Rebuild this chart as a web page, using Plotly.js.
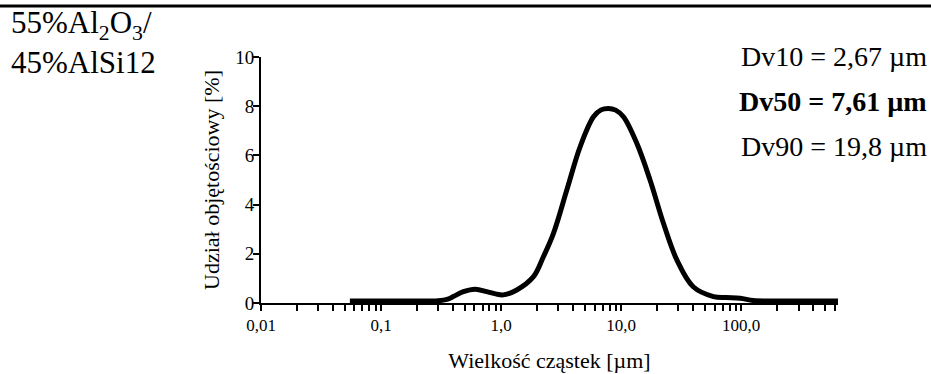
<!DOCTYPE html>
<html>
<head>
<meta charset="utf-8">
<script src="https://cdn.plot.ly/plotly-3.0.1.min.js"></script>
<style>
html,body{margin:0;padding:0;background:#fff;}
#chart{width:931px;height:374px;}
</style>
</head>
<body>
<div id="chart"></div>
<script>
// particle size [µm]
const sizes = [0.055, 0.08, 0.12, 0.18, 0.25, 0.30, 0.36, 0.40, 0.485, 0.61, 0.76, 0.9, 1.04, 1.35, 1.86, 2.25, 2.73, 3.53, 4.55, 5.88, 6.8, 7.83, 9.0, 10.45, 13.5, 17.4, 22.5, 29.1, 39.8, 58.8, 75, 98, 126, 170, 250, 400, 640];
// volume fraction [%]
const volumes = [0.08, 0.08, 0.08, 0.08, 0.08, 0.09, 0.16, 0.26, 0.46, 0.56, 0.46, 0.37, 0.33, 0.53, 1.07, 1.88, 2.83, 4.6, 6.35, 7.57, 7.85, 7.91, 7.84, 7.57, 6.49, 5.0, 3.24, 1.75, 0.66, 0.26, 0.22, 0.19, 0.1, 0.08, 0.08, 0.08, 0.08];

const xMajorVals = [0.01, 0.1, 1, 10, 100];
const xMajorText = ["0,01", "0,1", "1,0", "10,0", "100,0"];
const yTickVals = [0, 2, 4, 6, 8, 10];
const yTickText = ["0", "2", "4", "6", "8", "10"];

const sampleLines = ["55%Al<sub>2</sub>O<sub>3</sub>/", "45%AlSi12"];
const statLines = ["Dv10 = 2,67 µm", "<b>Dv50 = 7,61 µm</b>", "Dv90 = 19,8 µm"];

const W = 931, H = 374;
const M = {l: 261, r: 93, t: 57, b: 71};
const PW = W - M.l - M.r, PH = H - M.t - M.b;
const px = v => (v - M.l) / PW;          // page x -> paper x
const py = v => (H - M.b - v) / PH;      // page y -> paper y

const serif = '"Liberation Serif", "Times New Roman", Times, serif';

// log-axis tick positions: each decade gets 1..9 marks, labels only on decades
const xTickVals = [], xTickText = [];
const xMax = 640;
xMajorVals.forEach((d, i) => {
  for (let k = 1; k <= 9; k++) {
    const v = d * k;
    if (v > xMax) break;
    xTickVals.push(v);
    xTickText.push(k === 1 ? xMajorText[i] : ' ');
  }
});

const trace = {
  x: sizes, y: volumes, type: 'scatter', mode: 'lines',
  line: {color: '#000', width: 5, shape: 'spline', smoothing: 1},
  hoverinfo: 'skip'
};

const annotations = [];
[39, 74].forEach((base, i) => {
  annotations.push({
    xref: 'paper', yref: 'paper', x: px(9), y: py(base + 8),
    xanchor: 'left', yanchor: 'bottom', showarrow: false,
    text: sampleLines[i], font: {family: serif, size: 31, color: '#000'}
  });
});
[67, 112, 157].forEach((base, i) => {
  annotations.push({
    xref: 'paper', yref: 'paper', x: px(929), y: py(base + 7),
    xanchor: 'right', yanchor: 'bottom', showarrow: false,
    text: statLines[i], font: {family: serif, size: 28, color: '#000'}
  });
});

const layout = {
  width: W, height: H,
  margin: M,
  paper_bgcolor: '#fff', plot_bgcolor: '#fff',
  showlegend: false,
  font: {family: serif, color: '#000'},
  xaxis: {
    type: 'log', range: [-2, Math.log10(xMax)],
    showline: true, linecolor: '#000', linewidth: 2,
    showgrid: false, zeroline: false,
    tickmode: 'array', tickvals: xTickVals, ticktext: xTickText, tickangle: 0,
    ticks: 'outside', ticklen: 6, tickwidth: 2, tickcolor: '#000',
    tickfont: {family: serif, size: 17, color: '#000'},
    title: {text: 'Wielkość cząstek [µm]', font: {family: serif, size: 22, color: '#000'}, standoff: 18}
  },
  yaxis: {
    range: [0, 10],
    showline: true, linecolor: '#000', linewidth: 2,
    showgrid: false, zeroline: false,
    tickmode: 'array', tickvals: yTickVals, ticktext: yTickText,
    ticks: 'outside', ticklen: 6, tickwidth: 2, tickcolor: '#000',
    ticklabelstandoff: -5,
    tickfont: {family: serif, size: 19, color: '#000'},
    title: {text: 'Udział objętościowy [%]', font: {family: serif, size: 22, color: '#000'}, standoff: 10}
  },
  shapes: [{
    type: 'line', xref: 'paper', yref: 'paper',
    x0: px(0), x1: px(W), y0: py(6), y1: py(6),
    line: {color: '#000', width: 3}
  }],
  annotations: annotations
};

Plotly.newPlot('chart', [trace], layout, {displayModeBar: false, staticPlot: true});
</script>
</body>
</html>
